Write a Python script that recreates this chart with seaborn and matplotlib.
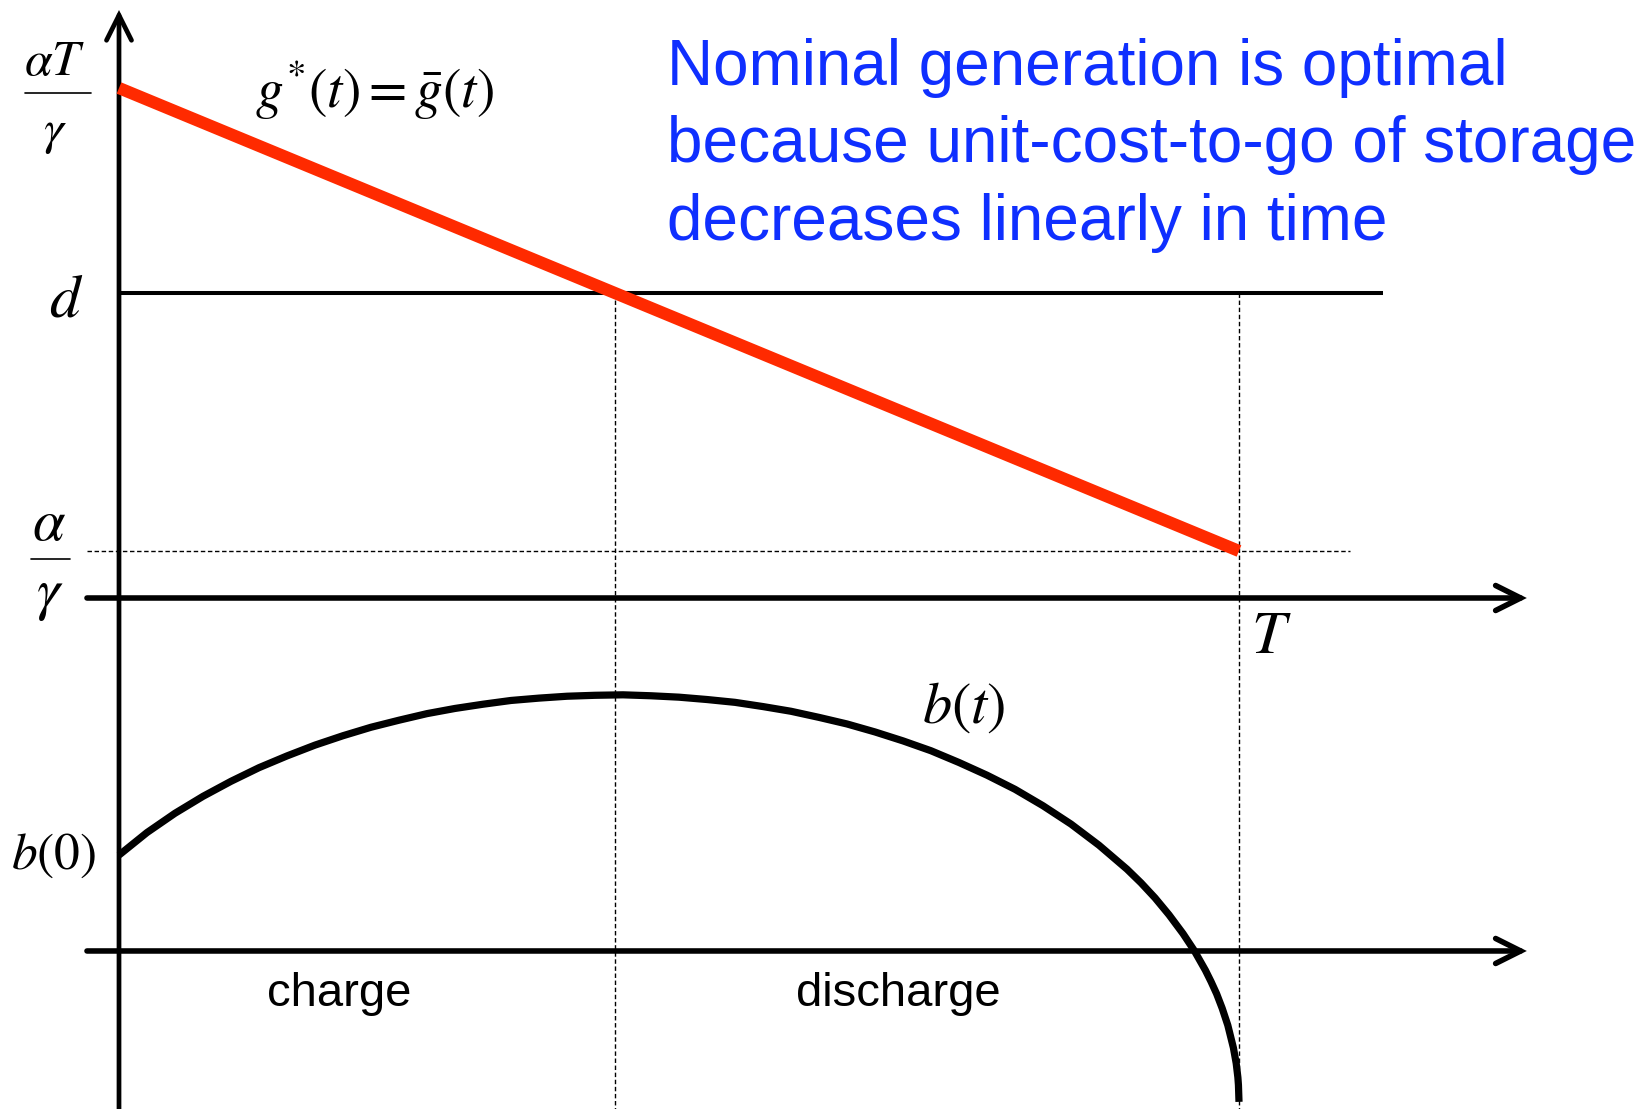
import numpy as np
import pandas as pd
import matplotlib
matplotlib.use("Agg")
import matplotlib.pyplot as plt
import seaborn as sns

# ---- data -------------------------------------------------------------
# time normalised to the horizon T = 1
t_gen = [0.0, 1.0]
# optimal generation g*(t) (units of alpha/gamma): linear from alpha*T/gamma to alpha/gamma
g_opt = [10.85, 1.0]
demand_d = 6.49
alpha_over_gamma = 1.0
alphaT_over_gamma = 10.74

# storage level b(t)
t_storage = [0.0, 0.025, 0.05, 0.075, 0.10, 0.125, 0.15, 0.175, 0.20, 0.225,
             0.25, 0.275, 0.30, 0.325, 0.35, 0.375, 0.40, 0.425, 0.45, 0.475,
             0.50, 0.525, 0.55, 0.575, 0.60, 0.625, 0.65, 0.675, 0.70, 0.725,
             0.75, 0.775, 0.80, 0.825, 0.85, 0.875, 0.90, 0.9125, 0.925, 0.9375,
             0.95, 0.96, 0.97, 0.975, 0.98, 0.985, 0.99, 0.995, 0.9975, 0.999,
             0.9995, 1.0]
b_storage = [2.04, 2.52, 2.93, 3.29, 3.61, 3.90, 4.15, 4.38, 4.58, 4.76,
             4.91, 5.05, 5.16, 5.25, 5.33, 5.38, 5.42, 5.44, 5.45, 5.43,
             5.40, 5.35, 5.29, 5.20, 5.10, 4.97, 4.83, 4.66, 4.47, 4.26,
             4.01, 3.74, 3.44, 3.09, 2.70, 2.25, 1.74, 1.45, 1.13, 0.77,
             0.37, 0.01, -0.41, -0.65, -0.91, -1.22, -1.58, -2.06, -2.39, -2.69,
             -2.85, -3.21]

text_lines = ["Nominal generation is optimal",
              "because unit-cost-to-go of storage",
              "decreases linearly in time"]
phase_labels = ["charge", "discharge"]

# ---- layout -----------------------------------------------------------
B_OFFSET = 7.51          # vertical offset of the storage panel below the generation panel
RED = "#FF2A00"
BLUE = "#0F2FFF"

sns.set_theme(style="white")
plt.rcParams["mathtext.fontset"] = "stix"
plt.rcParams["font.family"] = ["Liberation Sans", "DejaVu Sans"]

fig = plt.figure(figsize=(16.52, 11.09), dpi=100)
ax = fig.add_axes([0, 0, 1, 1])
ax.set_xlim(-0.10625, 1.36875)
ax.set_ylim(-10.872, 12.723)
ax.axis("off")

t_switch = (g_opt[0] - demand_d) / (g_opt[0] - g_opt[1])
y_bottom = -11.5

dash = (0, (3.2, 1.9))
# dashed guides
ax.plot([-0.0286, 1.099], [alpha_over_gamma] * 2, color="black", lw=1.0, ls=dash, zorder=1)
ax.plot([t_switch, t_switch], [demand_d, y_bottom], color="black", lw=1.0, ls=dash, zorder=1)
ax.plot([1.0, 1.0], [demand_d, y_bottom], color="black", lw=1.0, ls=dash, zorder=1)

# demand level
ax.plot([0.0, 1.1286], [demand_d, demand_d], color="black", lw=2.9, solid_capstyle="butt", zorder=2)

# axes with arrows
head = dict(arrowstyle="->,head_length=0.9,head_width=0.45", mutation_scale=20,
            color="black", shrinkA=0, shrinkB=0, capstyle="round", joinstyle="miter")
ax.annotate("", xy=(1.257, 0.0), xytext=(-0.0286, 0.0),
            arrowprops=dict(lw=4.0, **head), zorder=3)
ax.annotate("", xy=(1.257, -B_OFFSET), xytext=(-0.0286, -B_OFFSET),
            arrowprops=dict(lw=4.0, **head), zorder=3)
ax.annotate("", xy=(0.0, 12.51), xytext=(0.0, y_bottom),
            arrowprops=dict(lw=3.4, **head), zorder=3)

# storage trajectory
storage = pd.DataFrame({"t": t_storage, "b": np.array(b_storage) - B_OFFSET})
sns.lineplot(data=storage, x="t", y="b", ax=ax, color="black", lw=5.2,
             sort=False, estimator=None, solid_capstyle="butt",
             solid_joinstyle="round", zorder=4)

# optimal generation
gen = pd.DataFrame({"t": t_gen, "g": g_opt})
sns.lineplot(data=gen, x="t", y="g", ax=ax, color=RED, lw=8.8,
             sort=False, estimator=None, solid_capstyle="butt", zorder=5)

# ---- labels -------------------------------------------------------------
serif = dict(color="black", va="baseline")
# alpha T / gamma
ax.text(-0.0571, 11.13, r"$\alpha T$", fontsize=36, ha="center", **serif)
ax.plot([-0.0839, -0.025], [alphaT_over_gamma] * 2, color="black", lw=1.2, clip_on=False)
ax.text(-0.0571, 9.66, r"$\gamma$", fontsize=36, ha="center", **serif)
# d
ax.text(-0.0473, demand_d - 0.51, r"$d$", fontsize=44, ha="center", **serif)
# alpha / gamma
ax.text(-0.0625, 1.234, r"$\alpha$", fontsize=42, ha="center", **serif)
ax.plot([-0.0786, -0.0438], [0.83, 0.83], color="black", lw=1.2)
ax.text(-0.0616, -0.234, r"$\gamma$", fontsize=42, ha="center", **serif)
# T
ax.text(1.0286, -1.17, r"$T$", fontsize=44, ha="center", **serif)
# b(0), b(t)
ax.text(-0.0585, 2.04 - B_OFFSET - 0.3, r"$b(0)$", fontsize=37, ha="center", **serif)
ax.text(0.7545, -2.66, r"$b(t)$", fontsize=42, ha="center", **serif)
# g*(t) = gbar(t)
ax.text(0.1214, 10.43, r"$g^{*}(t) = \bar{g}(t)$", fontsize=40, ha="left", **serif)

# explanatory text
for yb, line in zip([10.915, 9.277, 7.617], text_lines):
    ax.text(0.489, yb, line, fontsize=46, color=BLUE, ha="left", va="baseline")

# phases
for tx, lab in zip([0.1964, 0.6955], phase_labels):
    ax.text(tx, -8.681, lab, fontsize=34, color="black", ha="center", va="baseline")

fig.savefig("out.png", dpi=100)
